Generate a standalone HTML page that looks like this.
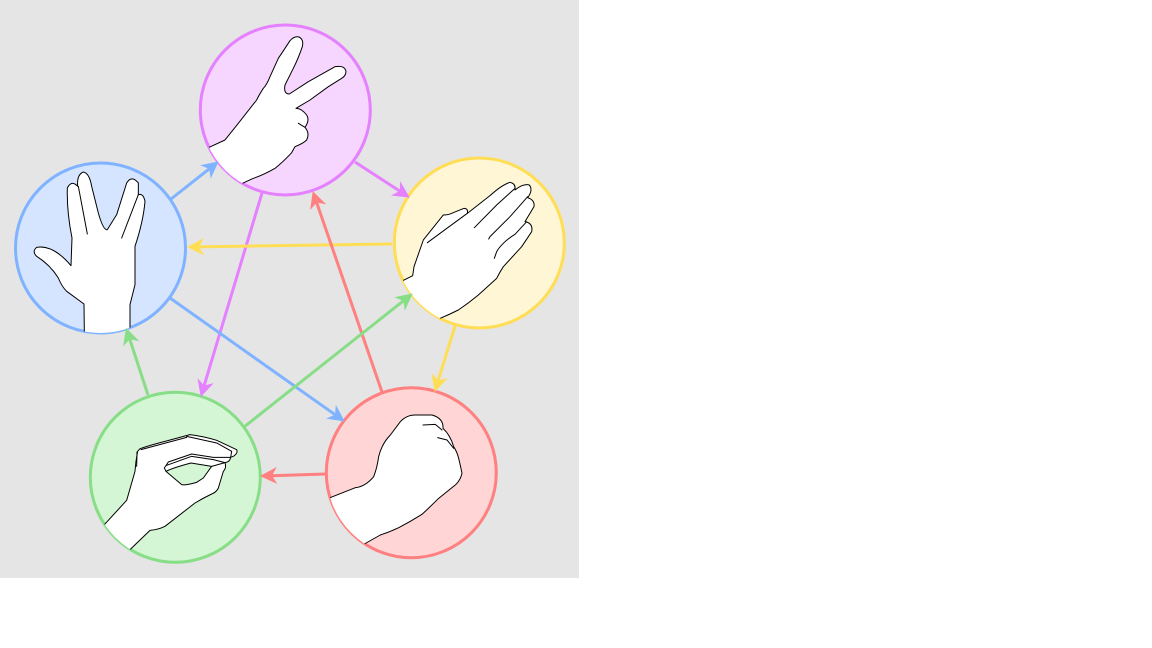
<!DOCTYPE html>
<html><head><meta charset="utf-8"><title>Rock paper scissors lizard Spock</title>
<style>html,body{margin:0;padding:0;background:#fff;width:1152px;height:648px;overflow:hidden}svg{display:block}.h{fill:#fff;stroke:#000;stroke-width:3;stroke-linejoin:round;stroke-linecap:round}.c{fill:none;stroke:#000;stroke-width:3;stroke-linecap:round;stroke-linejoin:round}.a{stroke-width:3;fill:none}</style></head>
<body>
<svg width="1152" height="648" viewBox="0 0 1152 648">
<defs>
<marker id="mp" markerUnits="userSpaceOnUse" markerWidth="40" markerHeight="40" refX="20" refY="20" orient="auto" overflow="visible"><path d="M31 20L14 11.5L19 20L14 28.5Z" fill="#e580ff"/></marker>
<marker id="my" markerUnits="userSpaceOnUse" markerWidth="40" markerHeight="40" refX="20" refY="20" orient="auto" overflow="visible"><path d="M31 20L14 11.5L19 20L14 28.5Z" fill="#ffdd55"/></marker>
<marker id="mr" markerUnits="userSpaceOnUse" markerWidth="40" markerHeight="40" refX="20" refY="20" orient="auto" overflow="visible"><path d="M31 20L14 11.5L19 20L14 28.5Z" fill="#ff8080"/></marker>
<marker id="mg" markerUnits="userSpaceOnUse" markerWidth="40" markerHeight="40" refX="20" refY="20" orient="auto" overflow="visible"><path d="M31 20L14 11.5L19 20L14 28.5Z" fill="#87de87"/></marker>
<marker id="mb" markerUnits="userSpaceOnUse" markerWidth="40" markerHeight="40" refX="20" refY="20" orient="auto" overflow="visible"><path d="M31 20L14 11.5L19 20L14 28.5Z" fill="#80b3ff"/></marker>
<clipPath id="cp"><circle cx="271" cy="270" r="255"/></clipPath>
<clipPath id="cy"><circle cx="268" cy="264" r="255"/></clipPath>
<clipPath id="cr"><circle cx="268" cy="263" r="255"/></clipPath>
<clipPath id="cg"><circle cx="271" cy="268" r="255"/></clipPath>
<clipPath id="cb"><circle cx="271" cy="270" r="255"/></clipPath>
</defs>
<rect x="0" y="0" width="579" height="578" fill="#e5e5e5"/>

<circle cx="285.3" cy="110" r="85" fill="#f6d5ff" stroke="#e580ff" stroke-width="3"/>
<circle cx="479.3" cy="243" r="85" fill="#fff6d5" stroke="#ffdd55" stroke-width="3"/>
<circle cx="411.3" cy="472.7" r="85" fill="#ffd5d5" stroke="#ff8080" stroke-width="3"/>
<circle cx="175.3" cy="477.3" r="85" fill="#d5f6d5" stroke="#87de87" stroke-width="3"/>
<circle cx="100.5" cy="248" r="85" fill="#d5e5ff" stroke="#80b3ff" stroke-width="3"/>

<g transform="translate(195,20) scale(.33333)" clip-path="url(#cp)">
<path class="h" d="M40 383L90 360Q110 335 130 310L185 240Q192 225 205 205Q215 195 225 170L250 115Q270 85 285 62Q298 47 312 51Q327 58 322 80Q310 115 295 145L270 195Q265 222 283 222L340 185L420 140Q450 135 453 155Q452 168 440 175L400 200L345 240L303 265Q320 265 335 285Q345 300 330 322Q345 340 335 360Q325 370 300 380L290 398Q265 425 240 445Q205 465 175 475L140 491L0 520Z"/>
<path class="c" d="M310 310L330 322"/>
</g>

<g transform="translate(390,155) scale(.33333)" clip-path="url(#cy)">
<path class="h" d="M38 377L68 362L72 335L100 255L160 180Q175 180 185 175L222 160Q235 160 232 175L300 122Q335 90 360 82Q378 85 375 105Q400 85 418 90Q430 105 413 128Q435 135 432 155L405 200Q430 205 425 230L395 275L340 335Q330 350 320 370L265 420Q235 445 205 465Q175 480 148 491L0 520Z"/>
<path class="c" d="M232 175L112 263M375 100L320 150L253 218M413 125L360 185Q330 215 300 245L296 252M410 200L375 238Q355 250 340 265Q325 280 320 290L313 310"/>
</g>

<g transform="translate(322,385) scale(.33333)" clip-path="url(#cr)">
<path class="h" d="M24 338L100 308Q130 305 155 275Q165 250 170 215Q180 175 205 150L235 110Q255 88 285 90L330 90Q365 100 363 130Q385 150 395 185Q405 200 410 220Q415 240 420 265Q415 285 402 298L350 340Q325 365 300 388Q265 410 230 428Q205 440 175 450L127 477L0 520Z"/>
<path class="c" d="M303 120L340 118L360 135M347 158L375 165L395 190"/>
</g>

<g transform="translate(85,388) scale(.33333)" clip-path="url(#cg)">
<path class="h" d="M58 410L125 337L150 250Q152 220 158 190L165 182Q200 170 240 160L315 140Q355 145 395 157L455 185Q460 195 445 205L437 208Q435 222 420 224Q425 240 415 250L400 300Q395 312 380 318Q355 330 330 345L240 415Q220 425 195 427L135 485L20 540Z"/>
<path class="h" d="M243 250Q262 240 318 225L380 235L355 270L335 283Q300 293 290 290Z" style="fill:#d5f6d5"/>
<path class="c" d="M243 250L238 240L250 222L320 198L385 208L437 208M305 145L395 165L440 190L437 208M245 232L320 205L385 215L420 224L380 235M155 235L156 192M168 185L305 148"/>
</g>

<g transform="translate(10,158) scale(.33333)" clip-path="url(#cb)">
<path class="h" d="M223 522L222 438L170 400Q155 385 145 360Q120 320 80 295Q65 280 80 268Q130 260 183 323L186 240Q170 160 172 90Q185 65 203 85Q200 50 220 42Q238 45 245 85L265 165Q280 218 292 215L320 170L350 75Q365 50 385 75V110Q400 105 405 130Q400 190 375 265L375 380L360 440L360 510L360 560L223 560Z"/>
<path class="c" d="M205 85L232 228M385 110L335 240"/>
</g>

<line class="a" x1="355" y1="162" x2="400.6" y2="191.6" stroke="#e580ff" marker-end="url(#mp)"/>
<line class="a" x1="262" y1="193" x2="203.9" y2="386.4" stroke="#e580ff" marker-end="url(#mp)"/>
<line class="a" x1="171" y1="199" x2="210.1" y2="168.2" stroke="#80b3ff" marker-end="url(#mb)"/>
<line class="a" x1="170" y1="298" x2="335.8" y2="415.2" stroke="#80b3ff" marker-end="url(#mb)"/>
<line class="a" x1="392" y1="244" x2="198" y2="246.85" stroke="#ffdd55" marker-end="url(#my)"/>
<line class="a" x1="455" y1="326" x2="437.9" y2="381.4" stroke="#ffdd55" marker-end="url(#my)"/>
<line class="a" x1="382" y1="392" x2="316.3" y2="201.5" stroke="#ff8080" marker-end="url(#mr)"/>
<line class="a" x1="326" y1="474" x2="271" y2="475.7" stroke="#ff8080" marker-end="url(#mr)"/>
<line class="a" x1="244" y1="427" x2="404.2" y2="300.2" stroke="#87de87" marker-end="url(#mg)"/>
<line class="a" x1="148" y1="395" x2="129.4" y2="338.2" stroke="#87de87" marker-end="url(#mg)"/>
</svg>
</body></html>
